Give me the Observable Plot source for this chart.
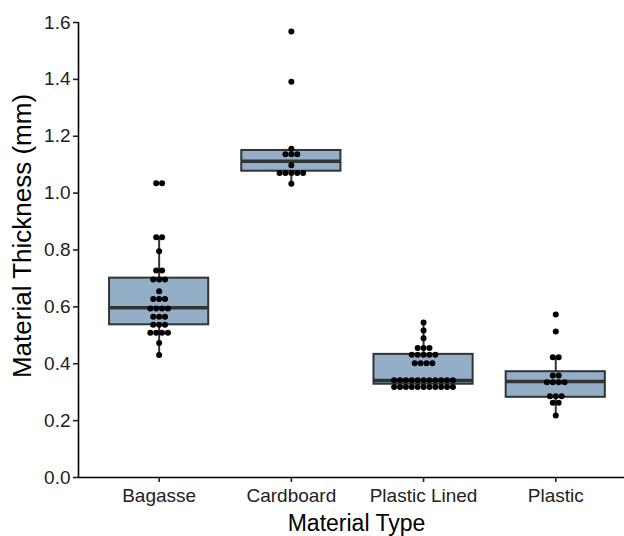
<!DOCTYPE html>
<html>
<head>
<meta charset="utf-8">
<script src="https://cdn.jsdelivr.net/npm/d3@7"></script>
<script src="https://cdn.jsdelivr.net/npm/@observablehq/plot@0.6"></script>
<style>
  html, body { margin: 0; padding: 0; background: white; }
</style>
</head>
<body>
<div id="chart"></div>
<script>
// Material types, in axis order
const categories = ["Bagasse", "Cardboard", "Plastic Lined", "Plastic"];

// Measured thickness (mm) per sample, grouped by material
const bagasse = [
  1.035, 1.035, 0.845, 0.845, 0.796, 0.728, 0.728, 0.696, 0.696, 0.696,
  0.655, 0.628, 0.628, 0.628, 0.594, 0.594, 0.594, 0.594, 0.565, 0.565,
  0.565, 0.537, 0.537, 0.537, 0.509, 0.509, 0.509, 0.509, 0.473, 0.431
];
const cardboard = [
  1.568, 1.392, 1.156, 1.137, 1.137, 1.137, 1.098,
  1.071, 1.071, 1.071, 1.071, 1.071, 1.033
];
const plasticLined = [
  0.545, 0.517, 0.490, 0.455, 0.455, 0.455, 0.432, 0.432, 0.432, 0.432,
  0.432, 0.402, 0.402, 0.402, 0.402,
  0.342, 0.342, 0.342, 0.342, 0.342, 0.342, 0.342, 0.342, 0.342, 0.342, 0.342,
  0.318, 0.318, 0.318, 0.318, 0.318, 0.318, 0.318, 0.318, 0.318, 0.318, 0.318
];
const plastic = [
  0.573, 0.513, 0.423, 0.423, 0.359, 0.359, 0.335, 0.335, 0.335, 0.335,
  0.286, 0.286, 0.286, 0.263, 0.263, 0.218
];
const thickness = [bagasse, cardboard, plasticLined, plastic];

// Box-and-whisker summaries per material
const q1          = [0.537, 1.077, 0.328, 0.282];
const median      = [0.597, 1.112, 0.341, 0.338];
const q3          = [0.701, 1.150, 0.433, 0.372];
const whiskerLow  = [0.431, 1.033, 0.318, 0.218];
const whiskerHigh = [0.845, 1.156, 0.545, 0.423];

// Axis ticks
const yTicks = [0, 0.2, 0.4, 0.6, 0.8, 1.0, 1.2, 1.4, 1.6];
const xTicks = [1, 2, 3, 4];

// Layout constants (in category units along x)
const xDomain = [0.39, 4.52];
const boxHalf = 0.375;
const dotStep = 0.0445;

// One row per material for the boxes
const boxes = categories.map((name, i) => ({
  name, pos: i + 1,
  q1: q1[i], median: median[i], q3: q3[i],
  lo: whiskerLow[i], hi: whiskerHigh[i]
}));

// Dots sharing a value are stacked side by side, centred on the category
const dots = [];
thickness.forEach((values, i) => {
  for (const [v, group] of d3.group(values, d => d)) {
    const n = group.length;
    group.forEach((_, k) => {
      dots.push({pos: i + 1 + (k - (n - 1) / 2) * dotStep, value: v, name: categories[i]});
    });
  }
});

const ink = "#333333";

const chart = Plot.plot({
  width: 624,
  height: 536,
  marginLeft: 78,
  marginRight: 0,
  marginTop: 22,
  marginBottom: 59,
  style: {fontFamily: "'Liberation Sans', Arial, sans-serif", background: "white"},
  x: {domain: xDomain, axis: null},
  y: {domain: [0, 1.6], axis: null},
  marks: [
    // whiskers
    Plot.ruleX(boxes, {x: "pos", y1: "lo", y2: "q1", stroke: ink, strokeWidth: 2}),
    Plot.ruleX(boxes, {x: "pos", y1: "q3", y2: "hi", stroke: ink, strokeWidth: 2}),
    // interquartile boxes
    Plot.rect(boxes, {
      x1: d => d.pos - boxHalf, x2: d => d.pos + boxHalf,
      y1: "q1", y2: "q3",
      fill: "#95AEC8", stroke: ink, strokeWidth: 2
    }),
    // medians
    Plot.ruleY(boxes, {
      x1: d => d.pos - boxHalf, x2: d => d.pos + boxHalf,
      y: "median", stroke: ink, strokeWidth: 3.5
    }),
    // individual samples
    Plot.dot(dots, {x: "pos", y: "value", r: 3, fill: "black", stroke: "none"}),
    // axis lines
    Plot.ruleY([0], {stroke: "black", strokeWidth: 1.6}),
    Plot.ruleX([xDomain[0]], {y1: 0, y2: 1.6, stroke: "black", strokeWidth: 1.6}),
    // axes
    Plot.axisY({
      ticks: yTicks, tickFormat: d3.format(".1f"), tickSize: 5, tickPadding: 3,
      fontSize: 19, color: "#222", label: null, strokeWidth: 1.6
    }),
    Plot.axisX({
      ticks: xTicks, tickFormat: d => categories[d - 1], tickSize: 5, tickPadding: 6,
      fontSize: 19, color: "#222", label: null, strokeWidth: 1.6
    }),
    // axis titles
    Plot.text(["Material Type"], {
      frameAnchor: "bottom", dx: 5, dy: 46, lineAnchor: "middle", textAnchor: "middle",
      fontSize: 23, fill: "black"
    }),
    Plot.text(["Material Thickness (mm)"], {
      frameAnchor: "left", dx: -56, dy: -14, rotate: -90, lineAnchor: "middle", textAnchor: "middle",
      fontSize: 26, fill: "black"
    })
  ]
});

document.getElementById("chart").appendChild(chart);
</script>
</body>
</html>
